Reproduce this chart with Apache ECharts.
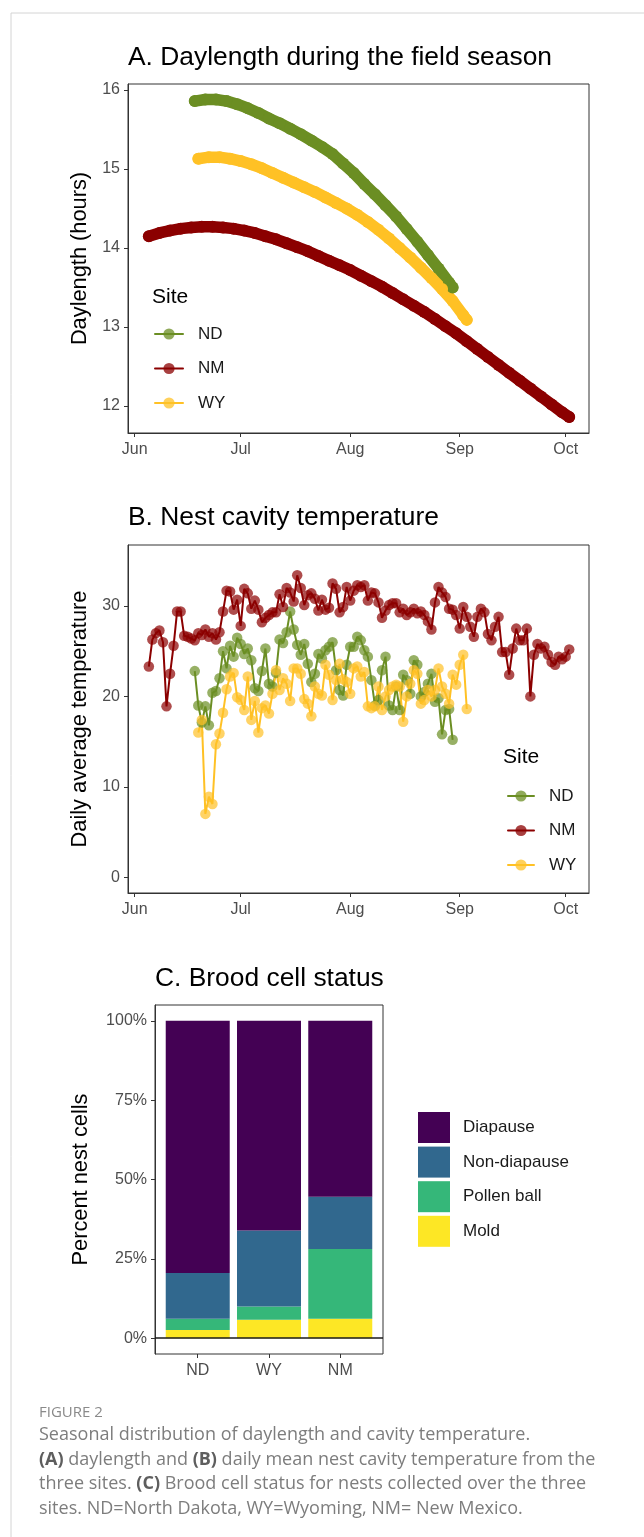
<!DOCTYPE html>
<html><head><meta charset="utf-8">
<script src="https://cdn.jsdelivr.net/npm/echarts@6/dist/echarts.min.js"></script>
<style>html,body{margin:0;padding:0;background:#fff;} #c{width:644px;height:1537px;}</style>
</head><body><div id="c"></div>
<script>
// ---------- shared axis data ----------
const monthLabels = ['Jun', 'Jul', 'Aug', 'Sep', 'Oct'];
const monthStartDays = [0, 30, 61, 92, 122];          // days after 1 June
const siteNames = ['ND', 'NM', 'WY'];
const siteColors = ['#6B8E23', '#8B0000', '#FFC125'];

// ---------- A. daylength (days after 1 June, hours) ----------
const daylTicks = [12, 13, 14, 15, 16];
const ndDaylDays  = [17,20,23,26,29,32,35,38,41,44,47,50,53,56,59,62,65,68,71,74,77,80,83,86,89,90];
const ndDaylHours = [15.86,15.88,15.88,15.86,15.82,15.77,15.71,15.64,15.58,15.51,15.44,15.36,15.28,15.19,15.07,14.95,14.81,14.68,14.54,14.40,14.24,14.08,13.91,13.74,13.56,13.50];
const nmDaylDays  = [4,7,10,13,16,19,22,25,28,31,34,37,40,43,46,49,52,55,58,61,64,67,70,73,76,79,82,85,88,91,94,97,100,103,106,109,112,115,118,121,123];
const nmDaylHours = [14.15,14.19,14.22,14.245,14.26,14.27,14.27,14.26,14.245,14.22,14.19,14.15,14.11,14.06,14.01,13.96,13.90,13.84,13.78,13.72,13.65,13.58,13.51,13.43,13.35,13.27,13.19,13.10,13.01,12.92,12.82,12.72,12.62,12.52,12.42,12.32,12.22,12.12,12.02,11.92,11.86];
const wyDaylDays  = [18,21,24,27,30,33,36,39,42,45,48,51,54,57,60,63,66,69,72,75,78,81,84,87,90,93,94];
const wyDaylHours = [15.13,15.15,15.15,15.13,15.10,15.06,15.01,14.95,14.89,14.83,14.77,14.71,14.64,14.57,14.50,14.42,14.33,14.23,14.12,14.00,13.88,13.75,13.62,13.48,13.33,13.15,13.09];

// ---------- B. daily mean nest cavity temperature (consecutive days) ----------
const tempTicks = [0, 10, 20, 30];
const ndTempFirstDay = 17;   // 18 June
const ndTemp = [22.8,19.0,17.1,18.9,16.8,20.4,20.6,22.0,25.0,23.1,
  25.6,24.4,26.5,25.8,24.7,25.3,24.0,20.9,20.6,22.8,
  25.3,21.4,21.1,22.6,26.3,25.9,27.1,29.4,27.4,25.7,
  24.6,25.8,23.6,21.6,22.5,24.7,24.2,25.1,25.5,26.0,
  22.9,20.7,20.1,23.5,25.5,25.5,26.6,26.2,25.1,24.4,
  21.8,19.0,19.6,22.9,24.4,19.0,18.5,21.1,18.5,22.4,
  21.8,20.3,24.0,23.5,20.0,20.5,21.4,22.5,19.4,19.8,
  15.8,18.5,18.6,15.2];
const nmTempFirstDay = 4;    // 5 June
const nmTemp = [23.3,26.3,27.0,27.3,26.0,18.9,22.5,25.6,29.4,29.4,
  26.7,26.6,26.4,26.2,27.0,26.8,27.4,26.6,27.0,26.3,
  27.1,29.4,31.7,31.6,29.6,30.7,27.8,31.9,31.4,29.7,
  30.6,29.6,28.2,28.7,29.0,29.3,29.3,31.3,29.9,32.0,
  31.5,30.5,33.4,32.0,30.1,31.2,31.4,30.8,29.5,30.7,
  29.6,29.8,32.5,31.9,29.3,29.9,32.1,30.6,31.7,32.3,
  32.1,32.3,30.6,31.5,31.4,30.4,28.7,29.5,30.1,30.3,
  30.3,29.3,29.7,29.0,29.3,29.7,29.2,29.4,29.0,28.3,
  27.4,30.4,32.1,31.5,31.0,29.7,29.6,29.0,27.5,29.9,
  28.8,27.7,26.6,28.8,29.7,29.3,26.9,26.2,27.7,28.8,
  24.9,24.9,22.4,25.3,27.5,26.2,26.2,27.5,20.0,24.6,
  25.8,25.3,25.5,24.6,23.8,23.5,24.4,24.1,24.4,25.2];
const wyTempFirstDay = 18;   // 19 June
const wyTemp = [16.0,17.4,7.0,8.9,8.1,14.7,15.9,18.2,20.8,22.2,
  22.6,19.9,19.6,18.5,22.2,17.4,19.5,16.0,18.7,19.0,
  18.1,20.3,22.9,20.7,22.0,21.4,19.5,23.1,23.1,22.5,
  19.7,19.2,17.8,21.1,20.3,20.1,23.5,22.4,19.6,21.8,
  23.6,21.9,21.6,20.3,23.1,23.3,22.2,22.7,18.9,18.7,
  18.9,21.1,18.5,20.0,20.7,21.1,21.3,21.1,17.2,20.0,
  21.4,22.9,22.5,19.2,19.6,20.7,20.0,20.7,23.1,21.1,
  20.3,19.2,22.4,21.3,23.5,24.6,18.6];

// ---------- C. brood cell status (percent) ----------
const broodSites = ['ND', 'WY', 'NM'];
const statusNames = ['Mold', 'Pollen ball', 'Non-diapause', 'Diapause'];
const statusColors = ['#FDE725', '#35B779', '#31688E', '#440154'];
const moldPct        = [2.6, 5.8, 6.1];
const pollenBallPct  = [3.5, 4.2, 22.0];
const nonDiapausePct = [14.4, 23.9, 16.5];
const diapausePct    = [79.5, 66.1, 55.4];
const pctTicks = [0, 25, 50, 75, 100];
const zeroLine = [0];

// ---------- build chart ----------
const FONT = 'Liberation Sans, Arial, sans-serif';
const daylSets = [[ndDaylDays, ndDaylHours], [nmDaylDays, nmDaylHours], [wyDaylDays, wyDaylHours]];
const tempSets = [[ndTempFirstDay, ndTemp], [nmTempFirstDay, nmTemp], [wyTempFirstDay, wyTemp]];
const statusSets = [moldPct, pollenBallPct, nonDiapausePct, diapausePct];

const frame = {show: true, borderColor: '#333', borderWidth: 1, backgroundColor: 'rgba(0,0,0,0)'};
const tickStyle = {color: '#333', width: 1};
const labelStyle = {fontSize: 16, color: '#4d4d4d', fontFamily: FONT};
const nameStyle = {fontSize: 21.8, color: '#000', fontFamily: FONT};

function monthAxis(gi) {
  return {type: 'value', gridIndex: gi, min: -1.9, max: 128.6, splitLine: {show: false},
    axisLine: {show: true, onZero: false, lineStyle: tickStyle},
    axisTick: {show: true, length: 4, customValues: monthStartDays, lineStyle: tickStyle},
    axisLabel: Object.assign({customValues: monthStartDays, margin: 9,
      formatter: v => monthLabels[monthStartDays.indexOf(v)]}, labelStyle)};
}
function valueAxis(gi, min, max, ticks, name, gap, fmt) {
  return {type: 'value', gridIndex: gi, min: min, max: max, splitLine: {show: false},
    axisLine: {show: true, onZero: false, lineStyle: tickStyle},
    axisTick: {show: true, length: 4, customValues: ticks, lineStyle: tickStyle},
    axisLabel: Object.assign({customValues: ticks, margin: 8, formatter: fmt || (v => String(v))}, labelStyle),
    name: name, nameLocation: 'middle', nameGap: gap, nameRotate: 90, nameTextStyle: nameStyle};
}
const hiddenAxis = {show: false, splitLine: {show: false}};

const series = [];
siteNames.forEach((s, k) => {
  const [days, hrs] = daylSets[k];
  series.push({type: 'line', name: s, xAxisIndex: 0, yAxisIndex: 0,
    data: days.map((d, i) => [d, hrs[i]]),
    symbol: 'circle', symbolSize: 12, showSymbol: true,
    lineStyle: {width: 11.5, color: siteColors[k], cap: 'round', join: 'round'},
    itemStyle: {color: siteColors[k], opacity: 1}, z: 2});
});
siteNames.forEach((s, k) => {
  const [first, vals] = tempSets[k];
  series.push({type: 'line', name: s, xAxisIndex: 1, yAxisIndex: 1,
    data: vals.map((v, i) => [first + i, v]),
    symbol: 'circle', symbolSize: 10.5, showSymbol: true,
    lineStyle: {width: 2, color: siteColors[k]},
    itemStyle: {color: siteColors[k], opacity: 0.7}, z: 2});
});
statusNames.forEach((st, k) => {
  series.push({type: 'bar', name: st, stack: 'brood', xAxisIndex: 3, yAxisIndex: 3,
    barWidth: 64, data: statusSets[k], itemStyle: {color: statusColors[k]}, z: 2});
});
// horizontal reference line at 0 % across the whole panel C frame
series.push({type: 'line', name: 'zero', xAxisIndex: 2, yAxisIndex: 2, data: [], showSymbol: false, z: 5,
  markLine: {silent: true, symbol: ['none', 'none'], label: {show: false}, z: 5,
    lineStyle: {color: '#1a1a1a', width: 1.6, type: 'solid'}, data: zeroLine.map(v => ({yAxis: v}))}});

const legendCommon = {orient: 'vertical', padding: 0, selectedMode: false,
  data: siteNames, itemHeight: 14, itemGap: 14.5,
  textStyle: {fontSize: 17, color: '#1a1a1a', fontFamily: FONT, lineHeight: 20, padding: [0, 0, 0, 10]},
  lineStyle: {width: 2}, itemStyle: {opacity: 0.75}};

const titleStyle = {fontSize: 26.4, fontWeight: 'normal', color: '#000', fontFamily: FONT, lineHeight: 26};
const siteStyle = {fontSize: 21, fontWeight: 'normal', color: '#000', fontFamily: FONT, lineHeight: 20};

const option = {
  animation: false,
  backgroundColor: '#fff',
  graphic: [{type: 'rect', left: 8.5, top: 10.5, shape: {width: 700, height: 1600},
    style: {fill: 'none', stroke: '#d4d4d4', lineWidth: 1}, silent: true, z: -10}],
  title: [
    {text: 'A. Daylength during the field season', left: 128, top: 45, padding: 0, textStyle: titleStyle},
    {text: 'B. Nest cavity temperature', left: 128, top: 505, padding: 0, textStyle: titleStyle},
    {text: 'C. Brood cell status', left: 155, top: 966, padding: 0, textStyle: titleStyle},
    {text: 'Site', left: 152, top: 287, padding: 0, textStyle: siteStyle},
    {text: 'Site', left: 503, top: 747, padding: 0, textStyle: siteStyle},
    {text: 'FIGURE 2', left: 39, top: 1404, padding: 0,
      textStyle: {fontSize: 15, fontWeight: 'normal', color: '#8a8a8a', fontFamily: 'Open Sans', lineHeight: 18}},
    {text: 'Seasonal distribution of daylength and cavity temperature.\n' +
           '{b|(A)} daylength and {b|(B)} daily mean nest cavity temperature from the\n' +
           'three sites. {b|(C)} Brood cell status for nests collected over the three\n' +
           'sites. ND=North Dakota, WY=Wyoming, NM= New Mexico.',
      left: 39, top: 1423, padding: 0,
      textStyle: {fontSize: 18, fontWeight: 'normal', color: '#7d7d7d', fontFamily: 'Open Sans', lineHeight: 24.5,
        rich: {b: {fontSize: 18, fontWeight: 'bold', color: '#5e5e5e', fontFamily: 'Open Sans', lineHeight: 24.5}}}}
  ],
  legend: [
    Object.assign({}, legendCommon, {left: 154, top: 324, itemWidth: 28}),
    Object.assign({}, legendCommon, {left: 507, top: 786, itemWidth: 26}),
    {orient: 'vertical', padding: 0, selectedMode: false, left: 418, top: 1112,
      data: ['Diapause', 'Non-diapause', 'Pollen ball', 'Mold'], icon: 'rect',
      itemWidth: 32, itemHeight: 31, itemGap: 3.6,
      textStyle: {fontSize: 17, color: '#1a1a1a', fontFamily: FONT, padding: [0, 0, 0, 8]}}
  ],
  grid: [
    Object.assign({left: 128, top: 84, width: 461, height: 349}, frame),
    Object.assign({left: 128, top: 545, width: 461, height: 348}, frame),
    Object.assign({left: 155, top: 1005, width: 228, height: 349}, frame),
    {left: 162.1, top: 1005, width: 213.8, height: 349, show: false}
  ],
  xAxis: [
    monthAxis(0), monthAxis(1),
    Object.assign({type: 'value', gridIndex: 2, min: 0, max: 1}, hiddenAxis),
    {type: 'category', gridIndex: 3, data: broodSites, boundaryGap: true,
      axisLine: {show: false, onZero: false},
      axisTick: {show: true, length: 4, alignWithLabel: true, lineStyle: tickStyle},
      axisLabel: Object.assign({margin: 9}, labelStyle)}
  ],
  yAxis: [
    valueAxis(0, 11.658, 16.076, daylTicks, 'Daylength (hours)', 37),
    valueAxis(1, -1.75, 36.75, tempTicks, 'Daily average temperature', 36),
    valueAxis(2, -5, 105, pctTicks, 'Percent nest cells', 63, v => v + '%'),
    Object.assign({type: 'value', gridIndex: 3, min: -5, max: 105}, hiddenAxis)
  ],
  series: series
};

const chart = echarts.init(document.getElementById('c'), null, {renderer: 'canvas'});
chart.setOption(option);
</script>
</body></html>
